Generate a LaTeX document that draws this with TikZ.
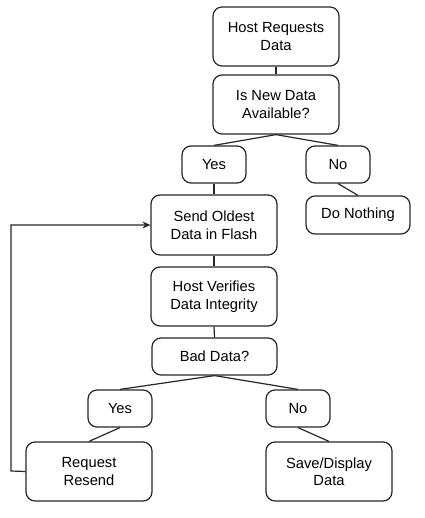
\documentclass[tikz,border=0pt]{standalone}
\usepackage{fontspec}
\setmainfont{Liberation Sans}
\usetikzlibrary{arrows.meta}
\begin{document}
\begin{tikzpicture}[x=1pt,y=-1pt,
  box/.style={draw=black!85, line width=1.2pt, rounded corners=9pt, align=center,
    inner sep=0pt, font=\fontsize{14.7}{17.5}\selectfont},
  conn/.style={draw=black!85, line width=1.2pt}]
\useasboundingbox (0,0) rectangle (424,518);
\newcommand{\bx}[6]{\node[box, minimum width=#4-#2, minimum height=#5-#3] (#1) at ({(#2+#4)/2},{(#3+#5)/2}) {#6};}
\bx{hr}{213}{7}{339}{66}{Host Requests\\Data}
\bx{nd}{213}{75}{339}{134}{Is New Data\\Available?}
\bx{y1}{182}{146}{246}{183}{Yes}
\bx{n1}{306}{146}{370}{183}{No}
\bx{dn}{306}{196}{410}{234}{Do Nothing}
\bx{so}{151}{195}{277}{255}{Send Oldest\\Data in Flash}
\bx{hv}{151}{267}{277}{326}{Host Verifies\\Data Integrity}
\bx{bd}{152}{338}{277}{375}{Bad Data?}
\bx{y2}{88}{390}{152}{427}{Yes}
\bx{n2}{266}{390}{330}{427}{No}
\bx{rr}{26}{442}{152}{501}{Request\\Resend}
\bx{sd}{266}{442}{392}{501}{Save/Display\\Data}
\coordinate (c1) at (11,471);
\coordinate (c2) at (11,225);
\draw[conn] (hr.south) -- (nd.north);
\draw[conn] (nd.south) -- (y1.north);
\draw[conn] (nd.south) -- (n1.north);
\draw[conn] (y1.south) -- (so.north);
\draw[conn] (n1.south) -- (dn.north);
\draw[conn] (so.south) -- (hv.north);
\draw[conn] (hv.south) -- (bd.north);
\draw[conn] (bd.south) -- (y2.north);
\draw[conn] (bd.south) -- (n2.north);
\draw[conn] (y2.south) -- (rr.north);
\draw[conn] (n2.south) -- (sd.north);
\draw[conn, -{Stealth[length=8pt,width=7pt]}] (rr.west) -- (c1) -- (c2) -- (so.west);
\end{tikzpicture}
\end{document}
